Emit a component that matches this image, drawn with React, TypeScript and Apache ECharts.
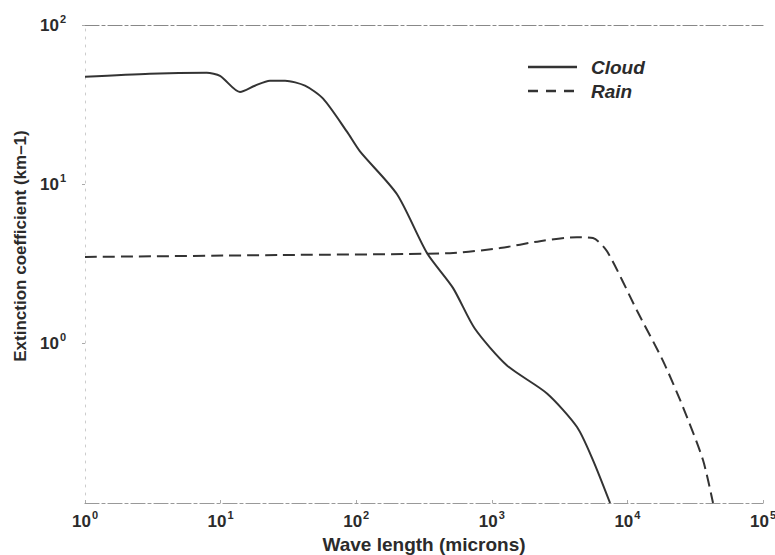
import React, { useEffect, useRef } from "react";
import * as echarts from "echarts";

// Wavelength (microns) vs extinction coefficient (km-1)
const cloudWave = [1, 3.0, 7.9, 9.9, 13.9, 17.9, 23.1, 29.9, 41.9, 57, 85.5, 106.6, 200, 333, 517, 751, 1294, 2553, 4250, 5571, 7450];
const cloudExt = [47.3, 49.4, 50.1, 48, 38, 41.6, 44.7, 44.7, 41.6, 34.5, 21.4, 16.1, 8.66, 3.7, 2.24, 1.24, 0.73, 0.487, 0.3, 0.186, 0.1];

const rainWave = [1, 27.4, 492, 1149, 2266, 4250, 5571, 7077, 11780, 18300, 25700, 36100, 42800];
const rainExt = [3.5, 3.6, 3.7, 3.98, 4.4, 4.66, 4.6, 3.8, 1.61, 0.78, 0.4, 0.186, 0.1];

const seriesNames = ["Cloud", "Rain"];
const xTitle = "Wave length (microns)";
const yTitle = "Extinction coefficient (km–1)";

const FONT = "Liberation Sans, Arial, Helvetica, sans-serif";
const INK = "#2b2b2b";

const supLabel = (v: number) => `{b|10}{s|${Math.round(Math.log10(v))}}`;
const richLabel = {
  b: { fontSize: 17, color: INK, fontFamily: FONT, fontWeight: "bold", lineHeight: 24 },
  s: { fontSize: 11, color: INK, fontFamily: FONT, fontWeight: "bold", verticalAlign: "top", lineHeight: 12, padding: [0, 0, 0, 1] },
};

export default function App() {
  const ref = useRef<HTMLDivElement>(null);
  useEffect(() => {
    if (!ref.current) return;
    const chart = echarts.init(ref.current, null, { renderer: "svg" });
    const lineColor = "#333";
    chart.setOption({
      animation: false,
      backgroundColor: "#fff",
      grid: { left: 85, right: 12, top: 25, bottom: 52, outerBoundsMode: "none", containLabel: false },
      graphic: [
        {
          type: "line",
          shape: { x1: 528, y1: 67, x2: 577, y2: 67 },
          style: { stroke: lineColor, lineWidth: 2.5 },
        },
        {
          type: "line",
          shape: { x1: 528, y1: 91, x2: 577, y2: 91 },
          style: { stroke: lineColor, lineWidth: 2.5, lineDash: [10, 8] },
        },
        {
          type: "text",
          x: 591,
          y: 67,
          style: {
            text: seriesNames[0],
            fill: INK,
            font: `italic bold 19px ${FONT}`,
            verticalAlign: "middle",
          },
        },
        {
          type: "text",
          x: 591,
          y: 91,
          style: {
            text: seriesNames[1],
            fill: INK,
            font: `italic bold 19px ${FONT}`,
            verticalAlign: "middle",
          },
        },
      ],
      xAxis: [
        {
          type: "log",
          min: 1,
          max: 100000,
          logBase: 10,
          position: "bottom",
          name: xTitle,
          nameLocation: "middle",
          nameGap: 31,
          nameTextStyle: { fontSize: 19, fontWeight: "bold", color: INK, fontFamily: FONT, lineHeight: 20 },
          axisLine: { show: true, lineStyle: { color: "#999", width: 1.2, type: [14, 3, 3, 3] } },
          axisTick: { show: true, inside: true, length: 3, lineStyle: { color: "#aaa" } },
          axisLabel: { margin: 6, formatter: supLabel, rich: richLabel },
          splitLine: { show: false },
          minorTick: { show: false },
        },
        {
          type: "log",
          min: 1,
          max: 100000,
          position: "top",
          axisLine: { show: true, lineStyle: { color: "#888", width: 1.2, type: [14, 3, 3, 3] } },
          axisTick: { show: false },
          axisLabel: { show: false },
          splitLine: { show: false },
        },
      ],
      yAxis: {
        type: "log",
        min: 0.1,
        max: 100,
        logBase: 10,
        name: yTitle,
        nameLocation: "middle",
        nameGap: 55,
        nameTextStyle: {
          fontSize: 17,
          fontWeight: "bold",
          color: INK,
          fontFamily: FONT,
          padding: [0, 0, 0, 36],
        },
        axisLine: { show: true, lineStyle: { color: "#ccc", width: 1, type: [2, 6] } },
        axisTick: { show: true, inside: false, length: 3, lineStyle: { color: "#aaa" } },
        axisLabel: {
          margin: 19,
          showMinLabel: false,
          formatter: supLabel,
          rich: richLabel,
        },
        splitLine: { show: false },
      },
      series: [
        {
          name: seriesNames[0],
          type: "line",
          xAxisIndex: 0,
          showSymbol: false,
          symbol: "none",
          smooth: 0.25,
          data: cloudWave.map((w, i) => [w, cloudExt[i]]),
          lineStyle: { color: lineColor, width: 2 },
          itemStyle: { color: lineColor },
        },
        {
          name: seriesNames[1],
          type: "line",
          xAxisIndex: 0,
          showSymbol: false,
          symbol: "none",
          smooth: 0.25,
          data: rainWave.map((w, i) => [w, rainExt[i]]),
          lineStyle: { color: lineColor, width: 2, type: [12, 6] },
          itemStyle: { color: lineColor },
        },
      ],
    });
    return () => chart.dispose();
  }, []);
  return <div ref={ref} style={{ width: 775, height: 555, position: "absolute", left: 0, top: 0 }} />;
}
